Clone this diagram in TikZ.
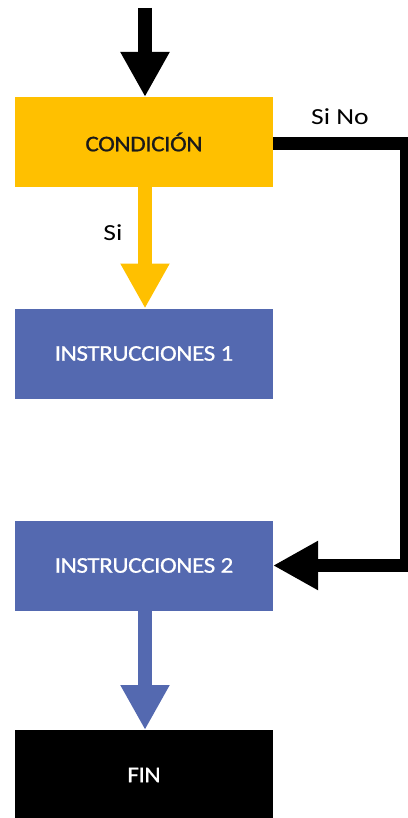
\documentclass[tikz,border=0pt]{standalone}
\usepackage{fontspec}
\setmainfont{Carlito}[FakeStretch=1.2]
\newfontfamily\boxfont{Carlito}[FakeStretch=1.12, FakeBold=0.8, LetterSpace=-2]
\usetikzlibrary{arrows.meta}

\definecolor{condyellow}{RGB}{255,192,0}
\definecolor{instblue}{RGB}{84,105,176}
\definecolor{textdark}{RGB}{26,26,26}

\begin{document}
\begin{tikzpicture}[
  x=1pt, y=-1pt,
  box/.style={rectangle, minimum width=258pt, minimum height=90pt,
              inner sep=0pt, outer sep=0pt, anchor=center,
              font=\boxfont\fontsize{22.5}{26}\selectfont},
  cnd/.style={box, fill=condyellow, text=textdark},
  ins/.style={box, fill=instblue, text=white},
  fin/.style={box, fill=black, text=white},
  flow/.style={line width=14pt,
               -{Triangle[width=46pt, length=45pt]}},
  loopback/.style={line width=13pt, miter limit=10,
                   -{Triangle[width=46pt, length=45pt]}},
  lbl/.style={font=\fontsize{23}{27}\selectfont, text=black},
]
\useasboundingbox (0,0) rectangle (407,818);
\def\cx{144}  % column of boxes

% Boxes
\node[cnd] (cond) at (\cx, 142)   {CONDICIÓN};
\node[ins] (ins1) at (\cx, 353.5) {INSTRUCCIONES 1};
\node[ins] (ins2) at (\cx, 565.5) {INSTRUCCIONES 2};
\node[fin] (end)  at (\cx, 775)   {FIN};

% Entry
\coordinate (start) at (145, 8);
\draw[flow, black] (start) -- (cond.north -| start);

% Yes branch
\draw[flow, condyellow] (cond.south -| start) -- (ins1.north -| start);
\node[lbl] (si) at (113, 233) {Si};

% No branch goes round to the second block
\coordinate (turn) at (406, 143.5);
\draw[loopback, black] (cond.east |- turn) -- (turn)
  -- (turn |- ins2.east) -- (ins2.east);
\node[lbl] (sino) at (340, 117) {Si No};

% Exit
\draw[flow, instblue] (ins2.south -| start) -- (end.north -| start);
\end{tikzpicture}
\end{document}
